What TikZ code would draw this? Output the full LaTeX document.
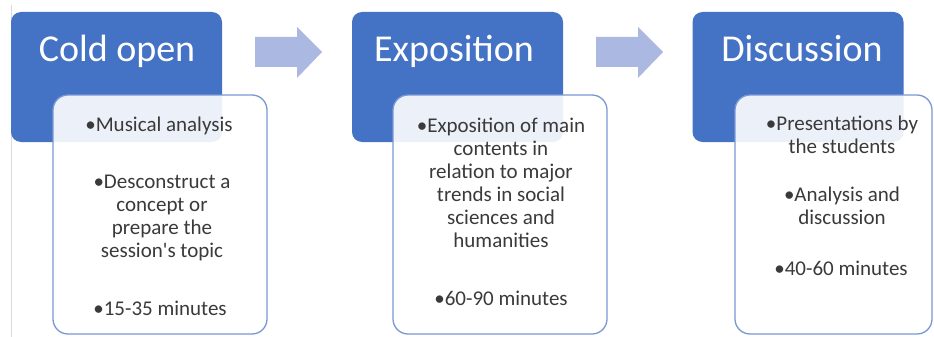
\documentclass[tikz,border=0pt]{standalone}
\usepackage{fontspec}
\setmainfont{Carlito}
\usetikzlibrary{positioning}
\definecolor{phaseblue}{HTML}{4472C4}
\definecolor{flowblue}{HTML}{ABB8E1}
\definecolor{cardline}{HTML}{7A98D4}
\definecolor{itemgrey}{HTML}{3A3A3A}

\begin{document}
\begin{tikzpicture}[x=1pt,y=-1pt,
  phase/.style={fill=phaseblue, rounded corners=10pt, minimum width=211pt, minimum height=130pt, inner sep=0pt},
  phasetitle/.style={text=white, font=\fontsize{38}{46}\selectfont, anchor=base, inner sep=0pt},
  card/.style={draw=cardline, line width=1.3pt, fill=white, fill opacity=0.9, rounded corners=15pt, minimum height=239pt, inner sep=0pt},
  item/.style={text=itemgrey, font=\fontsize{21}{23}\selectfont, align=center, anchor=base, inner sep=0pt},
  flow/.style={fill=flowblue}]
  \useasboundingbox (0,0) rectangle (934,337);
  \draw[black!15] (11.5,5) -- (11.5,337);
  % blue phase boxes
  \node[phase] (cold) at (116.5,77) {};
  \node[phase] (expo) at (457.5,77) {};
  \node[phase] (disc) at (798,77) {};
  \node[phasetitle] (coldtitle) at (117,62) {Cold open};
  \node[phasetitle] (expotitle) at (454,62) {Exposition};
  \node[phasetitle] (disctitle) at (802,62) {Discussion};
  % white cards
  \node[card, minimum width=214pt] (coldcard) at (160,214.5) {};
  \node[card, minimum width=214pt] (expocard) at (500,214.5) {};
  \node[card, minimum width=197pt] (disccard) at (833.5,214.5) {};
  % block arrows
  \fill[flow] (255,37) -- (297,37) -- (297,27) -- (322,52) -- (297,78) -- (297,67) -- (255,67) -- cycle;
  \fill[flow] (596,37) -- (638,37) -- (638,27) -- (663,52) -- (638,78) -- (638,67) -- (596,67) -- cycle;
  % items (base = last line)
  \node[item] (cold1) at (159,131) {•Musical analysis};
  \node[item] (cold2) at (162,257) {•Desconstruct a\\concept or\\prepare the\\session\textquotesingle s topic};
  \node[item] (cold3) at (160,315) {•15-35 minutes};
  \node[item] (expo1) at (501,247) {•Exposition of main\\contents in\\relation to major\\trends in social\\sciences and\\humanities};
  \node[item] (expo2) at (501,305) {•60-90 minutes};
  \node[item] (disc1) at (842,153) {•Presentations by\\the students};
  \node[item] (disc2) at (842,224) {•Analysis and\\discussion};
  \node[item] (disc3) at (841,275) {•40-60 minutes};
\end{tikzpicture}
\end{document}
